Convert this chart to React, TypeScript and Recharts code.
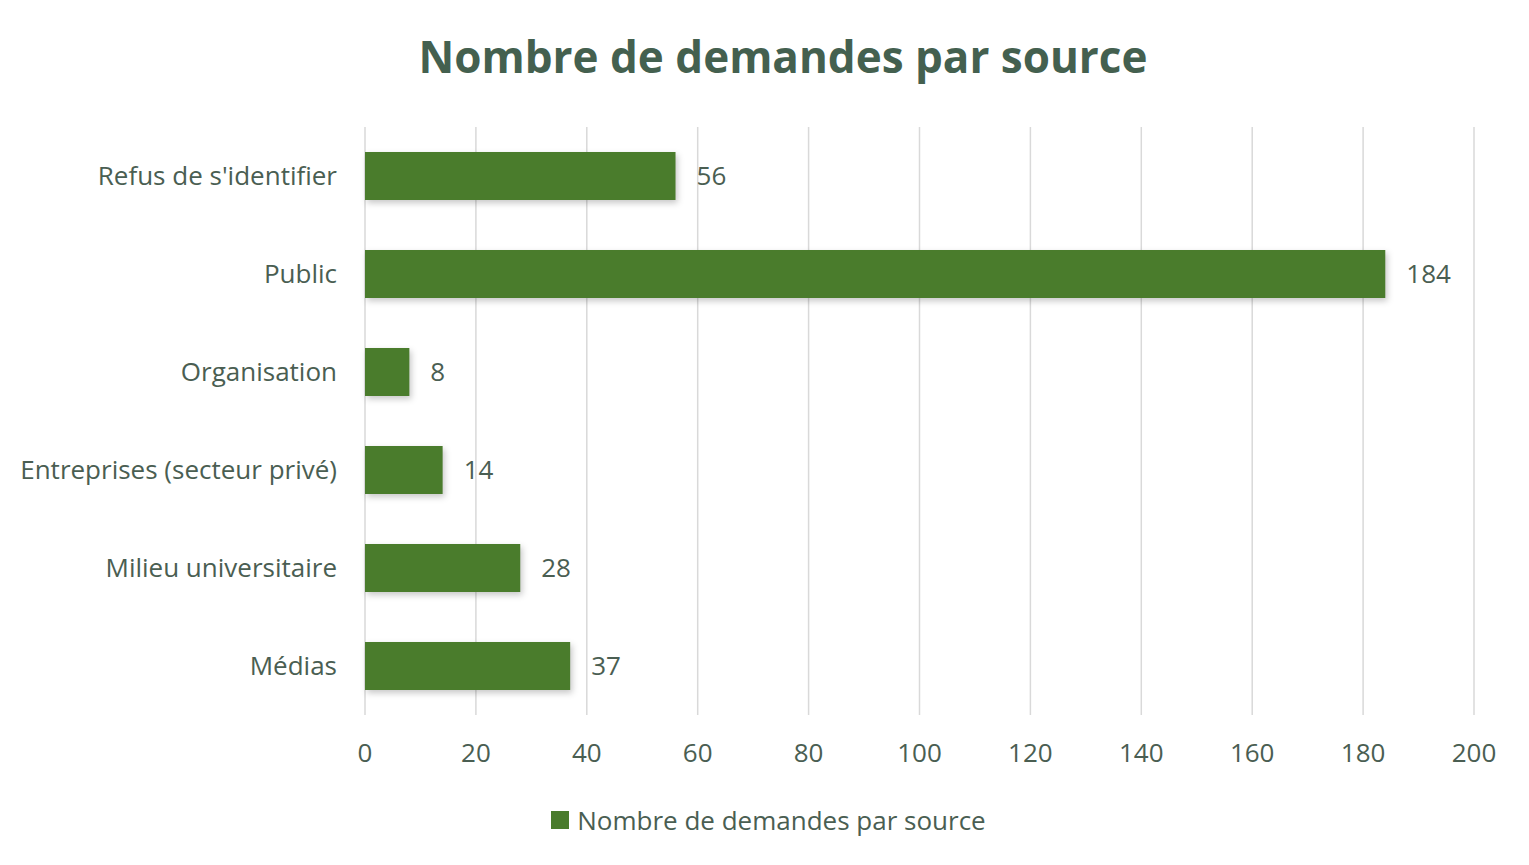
import { BarChart, Bar, XAxis, YAxis, CartesianGrid, LabelList } from 'recharts';

const categories = ['Refus de s\'identifier', 'Public', 'Organisation', 'Entreprises (secteur privé)', 'Milieu universitaire', 'Médias'];
const counts = [56, 184, 8, 14, 28, 37];
const xTicks = [0, 20, 40, 60, 80, 100, 120, 140, 160, 180, 200];
const seriesName = 'Nombre de demandes par source';

const data = categories.map((name, i) => ({ name, value: counts[i] }));

const BAR = '#4a7c2c';
const TEXT = '#4a5e52';
const FONT = '"Open Sans", sans-serif';

export default function App() {
  return (
    <div style={{ position: 'absolute', left: 0, top: 0, width: 1529, height: 865, background: '#fff' }}>
      <style>{`.recharts-bar-rectangle path { filter: drop-shadow(2px 3px 3px rgba(0,0,0,0.22)); }`}</style>
      <div style={{ position: 'absolute', left: 0, top: 26, width: 1566, textAlign: 'center', fontFamily: FONT, fontWeight: 700, fontSize: 44, color: '#44604f' }}>
        Nombre de demandes par source
      </div>
      <BarChart
        width={1529}
        height={865}
        data={data}
        layout="vertical"
        margin={{ top: 127, right: 55, bottom: 0, left: 25 }}
        barSize={48}
      >
        <CartesianGrid horizontal={false} stroke="#d9d9d9" strokeWidth={1.5} />
        <XAxis
          type="number"
          domain={[0, 200]}
          ticks={xTicks}
          axisLine={false}
          tickLine={false}
          tickSize={0}
          tickMargin={29}
          height={150}
          tick={{ fill: TEXT, fontSize: 26, fontFamily: FONT }}
        />
        <YAxis
          type="category"
          dataKey="name"
          width={340}
          axisLine={false}
          tickLine={false}
          tickSize={0}
          tickMargin={28}
          tick={{ fill: TEXT, fontSize: 26, fontFamily: FONT }}
        />
        <Bar dataKey="value" name={seriesName} fill={BAR} isAnimationActive={false}>
          <LabelList dataKey="value" position="right" offset={21} fill={TEXT} fontSize={26} fontFamily={FONT} />
        </Bar>
      </BarChart>
      <div style={{ position: 'absolute', left: 0, top: 802, width: 1529, display: 'flex', justifyContent: 'center', alignItems: 'center', fontFamily: FONT, fontSize: 26, color: TEXT }}>
        <span style={{ width: 18, height: 18, background: BAR, display: 'inline-block', marginRight: 8, marginLeft: 8 }} />
        <span>{seriesName}</span>
      </div>
    </div>
  );
}
